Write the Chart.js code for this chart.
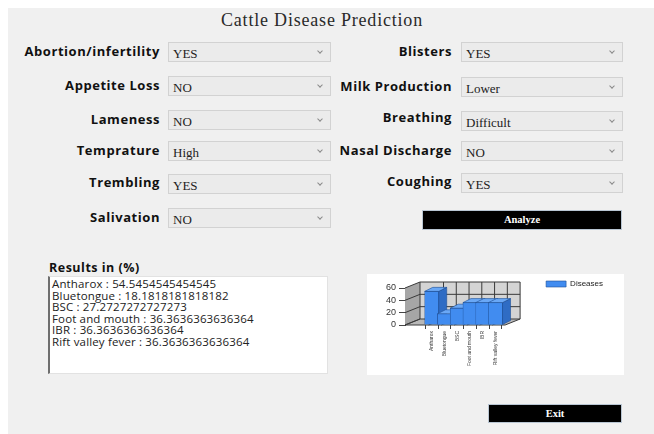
<!DOCTYPE html>
<html>
<head>
<meta charset="utf-8">
<title>Cattle Disease Prediction</title>
<script src="https://cdn.jsdelivr.net/npm/chart.js@4.4.1/dist/chart.umd.min.js"></script>
<style>
  html, body { margin: 0; padding: 0; }
  body { width: 654px; height: 434px; background: #fff; position: relative; overflow: hidden; font-family: "Open Sans", sans-serif; }
  #form { position: absolute; left: 8px; top: 8px; right: 0; bottom: 0; background: #f0f0f0; }
  #title { position: absolute; left: 0; width: 644px; top: 10px; text-align: center; font-family: "Liberation Serif", serif; font-size: 18px; letter-spacing: 0.8px; color: #2a2a2a; }
  .lbl { position: absolute; height: 16px; line-height: 16px; font-weight: 700; font-size: 13px; letter-spacing: 0.55px; color: #111; text-align: right; white-space: nowrap; }
  .left { right: 494px; }
  .right { right: 202px; }
  .combo { position: absolute; height: 20px; box-sizing: border-box; border: 1px solid #d2d2d2; background: #ebebeb; font-family: "Liberation Serif", serif; font-size: 13px; color: #222; padding-left: 4px; line-height: 21px; }
  .combo.c1 { left: 168px; width: 163px; }
  .combo.c2 { left: 461px; width: 162px; }
  .combo::after { content: ''; position: absolute; right: 8px; top: 6px; width: 3px; height: 3px; border-right: 1px solid #8a8a8a; border-bottom: 1px solid #8a8a8a; transform: rotate(45deg); }
  .btn { position: absolute; box-sizing: border-box; background: #000; border: 1px solid #b9c6d3; color: #fff; font-family: "Liberation Serif", serif; font-weight: 700; font-size: 10.5px; text-align: center; }
  #results-label { position: absolute; left: 49px; top: 259px; font-weight: 700; font-size: 12.5px; letter-spacing: 0.5px; color: #111; }
  #results { position: absolute; left: 48px; top: 276px; width: 280px; height: 98px; box-sizing: border-box; background: #fff; border: 1px solid #e2e2e2; border-left: 2px solid #6e6e6e; padding: 1px 0 0 2px; font-size: 11.5px; letter-spacing: 0.15px; line-height: 11.6px; color: #222; white-space: pre; }
  #panel { position: absolute; left: 367px; top: 274px; width: 257px; height: 101px; background: #fff; }
</style>
</head>
<body>
<div id="form"></div>
<div id="title">Cattle Disease Prediction</div>

<div class="lbl left" style="top:43px">Abortion/infertility</div>
<div class="combo c1" style="top:42px">YES</div>
<div class="lbl left" style="top:77px">Appetite Loss</div>
<div class="combo c1" style="top:76px">NO</div>
<div class="lbl left" style="top:111px">Lameness</div>
<div class="combo c1" style="top:110px">NO</div>
<div class="lbl left" style="top:142px">Temprature</div>
<div class="combo c1" style="top:141px">High</div>
<div class="lbl left" style="top:174px">Trembling</div>
<div class="combo c1" style="top:174px">YES</div>
<div class="lbl left" style="top:209px">Salivation</div>
<div class="combo c1" style="top:208px">NO</div>

<div class="lbl right" style="top:43px">Blisters</div>
<div class="combo c2" style="top:42px">YES</div>
<div class="lbl right" style="top:78px">Milk Production</div>
<div class="combo c2" style="top:77px">Lower</div>
<div class="lbl right" style="top:109px">Breathing</div>
<div class="combo c2" style="top:111px">Difficult</div>
<div class="lbl right" style="top:142px">Nasal Discharge</div>
<div class="combo c2" style="top:141px">NO</div>
<div class="lbl right" style="top:173px">Coughing</div>
<div class="combo c2" style="top:173px">YES</div>

<div class="btn" style="left:422px; top:210px; width:200px; height:20px; line-height:18px;">Analyze</div>

<div id="results-label">Results in (%)</div>
<div id="results"></div>

<div id="panel"><canvas id="diseaseChart" width="257" height="101"></canvas></div>

<div class="btn" style="left:488px; top:404px; width:134px; height:19px; line-height:17px;">Exit</div>

<script>
const diseases = ['Antharox', 'Bluetongue', 'BSC', 'Foot and mouth', 'IBR', 'Rift valley fever'];
const percentages = [54.5454545454545, 18.1818181818182, 27.2727272727273, 36.3636363636364, 36.3636363636364, 36.3636363636364];
const yTicks = [0, 20, 40, 60];

document.getElementById('results').textContent =
    diseases.map((d, i) => d + ' : ' + percentages[i]).join('\n');

// fake 3d look of the old winforms chart
const wallDepth = { dx: 15, dy: -6 };
const barDepth = { dx: 8, dy: -4 };
const floorEnd = 5.75;

function poly(ctx, pts, fill, stroke) {
    ctx.beginPath();
    ctx.moveTo(pts[0][0], pts[0][1]);
    for (let i = 1; i < pts.length; i++) ctx.lineTo(pts[i][0], pts[i][1]);
    ctx.closePath();
    ctx.fillStyle = fill;
    ctx.fill();
    if (stroke) {
        ctx.strokeStyle = stroke;
        ctx.stroke();
    }
}

const walls3d = {
    id: 'walls3d',
    beforeDatasetsDraw(chart) {
        const { ctx, scales: { x, y }, chartArea } = chart;
        const L = chartArea.left;
        const R = x.getPixelForValue(floorEnd);
        const T = y.getPixelForValue(yTicks[yTicks.length - 1]);
        const B = y.getPixelForValue(0);
        const { dx, dy } = wallDepth;
        ctx.save();
        ctx.lineWidth = 1;
        poly(ctx, [[L + dx, T + dy], [R + dx, T + dy], [R + dx, B + dy], [L + dx, B + dy]], '#d4d4d4');
        poly(ctx, [[L, T], [L + dx, T + dy], [L + dx, B + dy], [L, B]], '#a6a6a6');
        poly(ctx, [[L, B], [L + dx, B + dy], [R + dx, B + dy], [R, B]], '#b8b8b8');

        ctx.strokeStyle = '#3a3a3a';
        ctx.beginPath();
        yTicks.forEach(v => {
            const py = y.getPixelForValue(v);
            ctx.moveTo(L, py);
            ctx.lineTo(L + dx, py + dy);
            ctx.lineTo(R + dx, py + dy);
        });
        diseases.forEach((d, i) => {
            const px = x.getPixelForValue(i - 0.25);
            ctx.moveTo(px + dx, T + dy);
            ctx.lineTo(px + dx, B + dy);
            ctx.lineTo(px, B);
        });
        ctx.moveTo(R + dx, T + dy);
        ctx.lineTo(R + dx, B + dy);
        ctx.lineTo(R, B);
        ctx.lineTo(L, B);
        ctx.lineTo(L + dx, B + dy);
        ctx.lineTo(L + dx, T + dy);
        ctx.stroke();
        ctx.restore();
    },
    afterDatasetsDraw(chart) {
        const { ctx } = chart;
        const bars = chart.getDatasetMeta(0).data;
        const { dx, dy } = barDepth;
        ctx.save();
        ctx.lineWidth = 0.6;
        bars.forEach((bar, i) => {
            const { x, y, base, width } = bar.getProps(['x', 'y', 'base', 'width'], true);
            const l = x - width / 2;
            const r = x + width / 2;
            poly(ctx, [[r, y], [r + dx, y + dy], [r + dx, base + dy], [r, base]], '#2f6cc4', '#1f4f96');
            poly(ctx, [[l, y], [l + dx, y + dy], [r + dx, y + dy], [r, y]], '#6aa8f6', '#1f4f96');
            if (bars[i + 1]) bars[i + 1].draw(ctx);
        });
        ctx.restore();
    }
};

new Chart(document.getElementById('diseaseChart'), {
    type: 'bar',
    data: {
        datasets: [{
            label: 'Diseases',
            data: diseases.map((d, i) => ({ x: i, y: percentages[i] })),
            backgroundColor: '#418cf0',
            borderColor: '#1f4f96',
            borderWidth: 0.6,
            barThickness: 14
        }]
    },
    options: {
        responsive: false,
        animation: false,
        layout: { padding: { left: 0, top: 0, right: 11, bottom: 0 } },
        scales: {
            x: {
                type: 'linear',
                min: -1.21,
                max: 7.61,
                afterBuildTicks: scale => { scale.ticks = diseases.map((d, i) => ({ value: i })); },
                afterFit: scale => { scale.height = 50; },
                border: { display: false },
                grid: { drawOnChartArea: false, tickLength: 4, color: '#444' },
                ticks: {
                    autoSkip: false,
                    minRotation: 90,
                    maxRotation: 90,
                    padding: 2,
                    color: '#333',
                    font: { family: 'Liberation Sans', size: 5 },
                    callback: value => diseases[value]
                }
            },
            y: {
                min: 0,
                max: 60,
                afterBuildTicks: scale => { scale.ticks = yTicks.map(v => ({ value: v })); },
                afterFit: scale => { scale.width = 38; },
                border: { display: true, color: '#333' },
                grid: { drawOnChartArea: false, tickLength: 6, color: '#444' },
                ticks: { autoSkip: false, padding: 3, color: '#333', font: { family: 'Liberation Sans', size: 9 } }
            }
        },
        plugins: {
            // empty title only reserves the strip above the plot
            title: { display: true, text: '', padding: 0, font: { size: 14, lineHeight: 1 } },
            tooltip: { enabled: false },
            legend: {
                position: 'right',
                align: 'start',
                maxWidth: 90,
                labels: {
                    boxWidth: 20,
                    boxHeight: 6,
                    padding: 6,
                    color: '#222',
                    font: { family: 'Liberation Sans', size: 8 }
                }
            }
        }
    },
    plugins: [walls3d]
});
</script>
</body>
</html>
